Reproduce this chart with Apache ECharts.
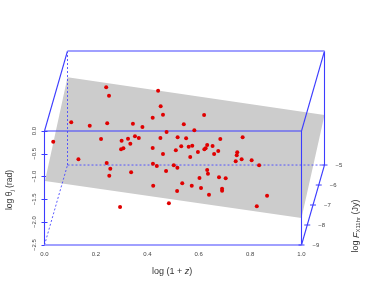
<!DOCTYPE html>
<html><head><meta charset="utf-8">
<style>html,body{margin:0;padding:0;background:#fff}#c{width:374px;height:307px}</style>
<script src="https://cdn.jsdelivr.net/npm/echarts@6/dist/echarts.min.js"></script>
</head><body><div id="c"></div>
<script>
// Projected position of each source on the front face scale
const logRedshift = [.240,.251,.104,.176,.244,.034,.220,.132,.242,.256,.252,.294,.442,.452,.461,.421,.344,.381,.542,.475,.583,.300,.325,.352,.367,.451,.518,.551,.334,.298,.307,.421,.532,.561,.575,.511,.461,.597,.567,.422,.437,.503,.517,.337,.473,.603,.423,.536,.573,.516,.484,.621,.771,.684,.633,.654,.622,.627,.676,.660,.750,.748,.767,.744,.806,.835,.633,.636,.679,.705,.609,.691,.691,.640,.866,.826];
const logTheta = [.958,.774,.191,.116,.169,-.235,-.175,-.621,-.702,-.827,-.980,-1.667,.884,.542,.357,.292,.160,.088,.147,-.022,.015,-.213,-.169,-.116,-.154,-.154,-.138,-.160,-.279,-.401,-.379,-.373,-.336,-.344,-.322,-.423,-.504,-.461,-.570,-.717,-.768,-.752,-.805,-.906,-.877,-1.031,-1.200,-1.147,-1.200,-1.316,-1.586,.351,-.138,-.175,-.307,-.329,-.401,-.379,-.439,-.504,-.467,-.533,-.621,-.664,-.643,-.752,-.855,-.936,-1.015,-1.037,-1.250,-1.265,-1.309,-1.397,-1.419,-1.651];
const xTicks = [0,.2,.4,.6,.8,1];
const yTicks = [-2.5,-2,-1.5,-1,-.5,0];
const zTicks = [-9,-8,-7,-6,-5];
const depthX = .0895, depthY = 1.754;
const planeCorners = [[.002,-1.096],[.0895,1.18],[1.0895,.35],[1,-1.91]];

const proj = (x,y,t) => [x+depthX*t, y+depthY*t];
const fmt = v => (v<0?'\u2212':'')+Math.abs(v).toFixed(1);
const blue='#3c3cff';
const seg = (a,b,opt) => ({type:'line',data:[a,b],symbol:'none',silent:true,z:opt.z||3,
  lineStyle:{color:opt.color||blue,width:opt.width||1.1,type:opt.type||'solid'}});
const F00=[0,-2.5],F10=[1,-2.5],F01=[0,0],F11=[1,0];
const B00=proj(0,-2.5,1),B10=proj(1,-2.5,1),B01=proj(0,0,1),B11=proj(1,0,1);
const dash=[2,2];
const series=[
 {type:'custom',z:1,silent:true,data:[0],renderItem:(p,api)=>({type:'polygon',
   shape:{points:planeCorners.map(c=>api.coord(c))},style:{fill:'#cccccc'}})},
 seg(F00,B00,{type:dash,width:.9,color:'#4a4aff'}),seg(B00,B01,{type:dash,width:.9,color:'#4a4aff'}),seg(B00,B10,{type:dash,width:.9,color:'#4a4aff'}),
 seg(F00,F01,{}),seg(F10,F11,{}),seg(F01,F11,{}),
 seg(F01,B01,{}),seg(F11,B11,{}),seg(B10,B11,{}),seg(F10,B10,{}),
 seg(F00,F10,{color:'#a0a0ff',width:2}),seg(B01,B11,{color:'#a0a0ff',width:2}),
 {type:'scatter',z:4,silent:true,symbol:'rect',symbolSize:[6,1],
  itemStyle:{color:blue,opacity:1},
  data:zTicks.map(z=>{const p=proj(1,-2.5,(z+9)/4);return {value:[p[0],p[1]],name:fmt(z).replace('.0','')};}),
  label:{show:true,position:'right',distance:8,formatter:d=>d.name,fontSize:6,color:'#444',fontFamily:'Liberation Sans'}},
 {type:'scatter',z:5,silent:true,symbol:'circle',symbolSize:4,itemStyle:{color:'#e00000',opacity:1},
  data:logRedshift.map((x,i)=>[x,logTheta[i]])}
];
const tickLabel={fontSize:6,color:'#444',fontFamily:'Liberation Sans'};
const chart=echarts.init(document.getElementById('c'),null,{renderer:'canvas'});
chart.setOption({
 animation:false,
 grid:{left:44.5,top:17,width:308.4,height:228,containLabel:false},
 xAxis:{type:'value',min:0,max:1.2,interval:.2,offset:-2,splitLine:{show:false},axisLine:{show:false},
   axisTick:{show:true,length:4,inside:false,customValues:xTicks,lineStyle:{color:blue}},
   axisLabel:Object.assign({show:true,margin:8,customValues:xTicks,formatter:v=>v.toFixed(1)},tickLabel)},
 yAxis:{type:'value',min:-2.5,max:2.5,interval:.5,offset:-3,splitLine:{show:false},axisLine:{show:false},
   axisTick:{show:true,length:6,customValues:yTicks,lineStyle:{color:blue}},
   axisLabel:Object.assign({show:true,rotate:90,margin:10,customValues:yTicks,formatter:fmt},tickLabel)},
 series,
 graphic:[
  {type:'text',left:152,top:267,silent:true,style:{rich:{
    a:{fontSize:9,fontFamily:'Liberation Sans',fill:'#333'},
    i:{fontSize:9,fontFamily:'Liberation Sans',fontStyle:'italic',fill:'#333'}},
    text:'{a|log (1 + }{i|z}{a|)}'}},
  {type:'text',x:10,y:190,rotation:Math.PI/2,silent:true,style:{align:'center',verticalAlign:'middle',rich:{
    a:{fontSize:8.5,fontFamily:'Liberation Sans',fill:'#333'},
    s:{fontSize:6,fontFamily:'Liberation Sans',fill:'#333',verticalAlign:'bottom',padding:[4,0,0,0]}},
    text:'{a|log θ}{s|j}{a| (rad)}'}},
  {type:'text',x:356,y:226,rotation:Math.PI/2,silent:true,style:{align:'center',verticalAlign:'middle',rich:{
    a:{fontSize:9,fontFamily:'Liberation Sans',fill:'#333'},
    i:{fontSize:9,fontFamily:'Liberation Sans',fontStyle:'italic',fill:'#333'},
    s:{fontSize:6,fontFamily:'Liberation Sans',fill:'#333',padding:[4,0,0,0]}},
    text:'{a|log }{i|F}{s|X11hr}{a| (Jy)}'}}
 ]
});
</script></body></html>
